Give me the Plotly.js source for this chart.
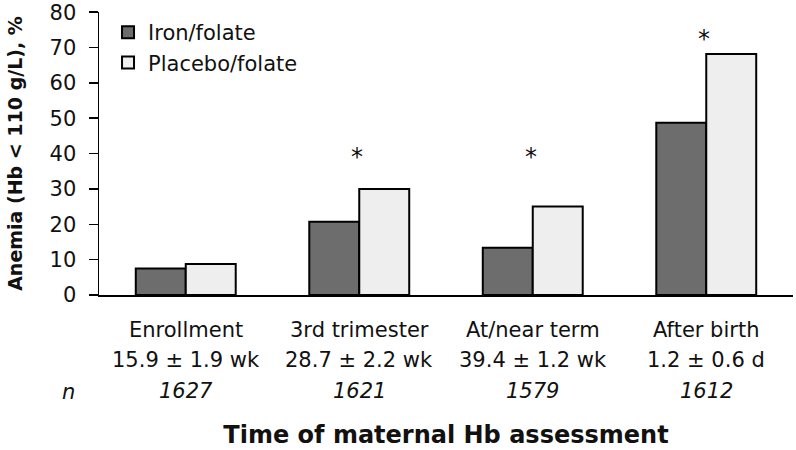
<!DOCTYPE html>
<html>
<head>
<meta charset="utf-8">
<script src="https://cdn.plot.ly/plotly-3.0.1.min.js"></script>
<style>html,body{margin:0;padding:0;background:#fff;}#chart{width:796px;height:450px;}</style>
</head>
<body>
<div id="chart"></div>
<script>
var categories = ["Enrollment", "3rd trimester", "At/near term", "After birth"];
var timing = ["15.9 ± 1.9 wk", "28.7 ± 2.2 wk", "39.4 ± 1.2 wk", "1.2 ± 0.6 d"];
var nValues = ["1627", "1621", "1579", "1612"];
var ironFolate = [7.5, 20.7, 13.4, 48.7];
var placeboFolate = [8.8, 30.0, 25.0, 68.2];
var significant = [false, true, true, true];
var starY = [null, 39, 39, 72.5];
var yTicks = [0, 10, 20, 30, 40, 50, 60, 70, 80];

var FONT = "DejaVu Sans";
var TXT = "#111";
var traces = [
  {type: "bar", name: "Iron/folate", x: categories, y: ironFolate,
   marker: {color: "#6d6d6d", line: {color: "#000", width: 2}}},
  {type: "bar", name: "Placebo/folate", x: categories, y: placeboFolate,
   marker: {color: "#eeeeee", line: {color: "#000", width: 2}}}
];

var ann = [];
categories.forEach(function (c, i) {
  ann.push({x: c, xref: "x", y: 0, yref: "paper", yanchor: "middle", yshift: -35, text: c, showarrow: false,
            font: {family: FONT, size: 21, color: TXT}});
  ann.push({x: c, xref: "x", y: 0, yref: "paper", yanchor: "middle", yshift: -65, text: timing[i], showarrow: false,
            font: {family: FONT, size: 21, color: TXT}});
  ann.push({x: c, xref: "x", y: 0, yref: "paper", yanchor: "middle", yshift: -96, text: "<i>" + nValues[i] + "</i>", showarrow: false,
            font: {family: FONT, size: 21, color: TXT}});
  if (significant[i]) {
    ann.push({x: c, xref: "x", y: starY[i], yref: "y", yanchor: "middle", xshift: -2, text: "*", showarrow: false,
              font: {family: FONT, size: 24, color: TXT}});
  }
});
ann.push({x: 0, xref: "paper", y: 0, yref: "paper", xanchor: "center", yanchor: "middle", xshift: -31, yshift: -97,
          text: "<i>n</i>", showarrow: false, font: {family: FONT, size: 21, color: TXT}});

var layout = {
  width: 796, height: 450,
  margin: {l: 99, r: 3, t: 12, b: 155},
  paper_bgcolor: "#fff", plot_bgcolor: "#fff",
  font: {family: FONT, size: 21, color: TXT},
  barmode: "group", bargap: 0.424, bargroupgap: 0,
  showlegend: true,
  legend: {x: 0.013, y: 1.0, xanchor: "left", yanchor: "top", traceorder: "normal",
           font: {family: FONT, size: 21, color: TXT}, bgcolor: "rgba(0,0,0,0)"},
  xaxis: {showticklabels: false, ticks: "", showline: true, linecolor: "#000", linewidth: 2,
          showgrid: false, zeroline: false, fixedrange: true,
          title: {text: "<b>Time of maternal Hb assessment</b>", standoff: 130,
                  font: {family: FONT, size: 24, color: TXT}}},
  yaxis: {range: [0, 80.05], tickvals: yTicks, ticks: "outside", ticklen: 9, tickwidth: 1.5, tickcolor: "#000",
          showline: true, linecolor: "#000", linewidth: 1.5, showgrid: false, zeroline: false,
          ticklabelstandoff: 8,
          tickfont: {family: FONT, size: 21, color: TXT},
          title: {text: "<b>Anemia (Hb < 110 g/L), %</b>", standoff: 22,
                  font: {family: FONT, size: 19, color: TXT}}},
  annotations: ann
};

Plotly.newPlot("chart", traces, layout, {staticPlot: true});
</script>
</body>
</html>
